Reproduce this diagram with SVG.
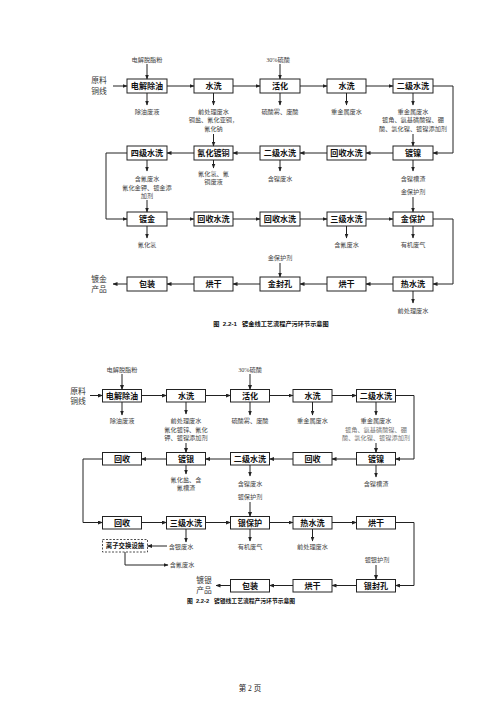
<svg xmlns="http://www.w3.org/2000/svg" width="500" height="707" viewBox="0 0 500 707">
<defs>
<marker id="ah" markerUnits="userSpaceOnUse" markerWidth="5" markerHeight="4" refX="4.5" refY="2" orient="auto"><path d="M0,0 L5,2 L0,4 Z" fill="#222"/></marker>
<style>
.bx rect{fill:#fff;stroke:#222;stroke-width:1}
.bx text{font-family:"Liberation Serif","Noto Sans CJK SC",serif;font-weight:bold;font-size:8.1px;text-anchor:middle;fill:#111}
.lb{font-family:"Liberation Serif","Noto Sans CJK SC",serif;font-size:6.2px;text-anchor:middle;fill:#444}
.lt{fill:#777}
.big{font-family:"Liberation Serif","Noto Sans CJK SC",serif;font-size:7.8px;text-anchor:middle;fill:#333}
.cap{font-family:"Liberation Sans","Noto Sans CJK SC",sans-serif;font-weight:bold;font-size:6.2px;text-anchor:middle;fill:#111}
.cn path,.cn line{fill:none;stroke:#222;stroke-width:1;marker-end:url(#ah)}
</style>
</defs>
<rect width="500" height="707" fill="#fff"/>

<!-- ===== Diagram 1 ===== -->
<g class="bx">
<g id="t_r1_1"><rect x="127" y="79" width="40" height="14"/><text x="147" y="89">电解除油</text></g>
<g id="t_r1_2"><rect x="194" y="79" width="39" height="14"/><text x="213.5" y="89">水洗</text></g>
<g id="t_r1_3"><rect x="260" y="79" width="40" height="14"/><text x="280" y="89">活化</text></g>
<g id="t_r1_4"><rect x="327" y="79" width="39" height="14"/><text x="346.5" y="89">水洗</text></g>
<g id="t_r1_5"><rect x="393" y="79" width="40" height="14"/><text x="413" y="89">二级水洗</text></g>

<g id="t_r2_1"><rect x="127" y="146" width="40" height="14"/><text x="147" y="156">四级水洗</text></g>
<g id="t_r2_2"><rect x="194" y="146" width="39" height="14"/><text x="213.5" y="156">氰化镀铜</text></g>
<g id="t_r2_3"><rect x="260" y="146" width="40" height="14"/><text x="280" y="156">二级水洗</text></g>
<g id="t_r2_4"><rect x="327" y="146" width="39" height="14"/><text x="346.5" y="156">回收水洗</text></g>
<g id="t_r2_5"><rect x="393" y="146" width="40" height="14"/><text x="413" y="156">镀镍</text></g>

<g id="t_r3_1"><rect x="127" y="212" width="40" height="14"/><text x="147" y="222">镀金</text></g>
<g id="t_r3_2"><rect x="194" y="212" width="39" height="14"/><text x="213.5" y="222">回收水洗</text></g>
<g id="t_r3_3"><rect x="260" y="212" width="40" height="14"/><text x="280" y="222">回收水洗</text></g>
<g id="t_r3_4"><rect x="327" y="212" width="39" height="14"/><text x="346.5" y="222">三级水洗</text></g>
<g id="t_r3_5"><rect x="393" y="212" width="40" height="14"/><text x="413" y="222">金保护</text></g>

<g id="t_r4_1"><rect x="127" y="277" width="40" height="14"/><text x="147" y="287">包装</text></g>
<g id="t_r4_2"><rect x="194" y="277" width="39" height="14"/><text x="213.5" y="287">烘干</text></g>
<g id="t_r4_3"><rect x="260" y="277" width="40" height="14"/><text x="280" y="287">金封孔</text></g>
<g id="t_r4_4"><rect x="327" y="277" width="39" height="14"/><text x="346.5" y="287">烘干</text></g>
<g id="t_r4_5"><rect x="393" y="277" width="40" height="14"/><text x="413" y="287">热水洗</text></g>
</g>

<g id="t_labels">
<text class="big" x="99" y="83">原料</text><text class="big" x="99" y="93.5">铜线</text>
<text class="big" x="99" y="282">镀金</text><text class="big" x="99" y="292">产品</text>
<text class="lb" x="147" y="61.5">电解脱脂粉</text>
<text class="lb" x="147" y="113.5">除油废液</text>
<text class="lb" x="213.5" y="113.5">前处理废水</text>
<text class="lb" x="213.5" y="122.3">铜盐、氰化亚铜，</text>
<text class="lb" x="213.5" y="131.2">氰化钠</text>
<text class="lb" x="278" y="61.5">30%硫酸</text>
<text class="lb" x="280" y="113.5">硫酸雾、废酸</text>
<text class="lb" x="346.5" y="113.5">重金属废水</text>
<text class="lb" x="413" y="113.5">重金属废水</text>
<text class="lb" x="413" y="122.3">镀角、氨基磺酸镍、硼</text>
<text class="lb" x="413" y="131.2">酸、氯化镍、镀镍添加剂</text>
<text class="lb" x="147" y="180.6">含氰废水</text>
<text class="lb" x="147" y="189.5">氰化金钾、镀金添</text>
<text class="lb" x="147" y="197.6">加剂</text>
<text class="lb" x="213.5" y="175.6">氰化氢、氰</text>
<text class="lb" x="213.5" y="184">铜废液</text>
<text class="lb" x="280" y="180.5">含镍废水</text>
<text class="lb" x="413" y="180.5">含镍槽渣</text>
<text class="lb" x="413" y="194">金保护剂</text>
<text class="lb" x="147" y="247.3">氰化氢</text>
<text class="lb" x="346.5" y="247.3">含氰废水</text>
<text class="lb" x="413" y="247.3">有机废气</text>
<text class="lb" x="280" y="260.3">金保护剂</text>
<text class="lb" x="413" y="313.3">前处理废水</text>
<text class="cap" x="271" y="325.5" xml:space="preserve">图  2.2-1   镀金线工艺流程产污环节示意图</text>
</g>

<g id="t_connectors" class="cn">
<line x1="113" y1="86" x2="127" y2="86"/>
<line x1="167" y1="86" x2="194" y2="86"/>
<line x1="233" y1="86" x2="260" y2="86"/>
<line x1="300" y1="86" x2="327" y2="86"/>
<line x1="366" y1="86" x2="393" y2="86"/>
<path d="M433,86 H453 V153 H433"/>
<line x1="147" y1="64" x2="147" y2="79"/>
<line x1="147" y1="93" x2="147" y2="105"/>
<line x1="213.5" y1="93" x2="213.5" y2="105"/>
<line x1="213.5" y1="134" x2="213.5" y2="146"/>
<line x1="280" y1="64" x2="280" y2="79"/>
<line x1="280" y1="93" x2="280" y2="105"/>
<line x1="346.5" y1="93" x2="346.5" y2="105"/>
<line x1="413" y1="93" x2="413" y2="105"/>
<line x1="413" y1="134" x2="413" y2="146"/>
<line x1="393" y1="153" x2="366" y2="153"/>
<line x1="327" y1="153" x2="300" y2="153"/>
<line x1="260" y1="153" x2="233" y2="153"/>
<line x1="194" y1="153" x2="167" y2="153"/>
<path d="M127,153 H106 V219 H127"/>
<line x1="147" y1="160" x2="147" y2="171"/>
<line x1="147" y1="200" x2="147" y2="212"/>
<line x1="213.5" y1="160" x2="213.5" y2="168"/>
<line x1="280" y1="160" x2="280" y2="171"/>
<line x1="413" y1="160" x2="413" y2="171"/>
<line x1="413" y1="197" x2="413" y2="212"/>
<line x1="167" y1="219" x2="194" y2="219"/>
<line x1="233" y1="219" x2="260" y2="219"/>
<line x1="300" y1="219" x2="327" y2="219"/>
<line x1="366" y1="219" x2="393" y2="219"/>
<path d="M433,219 H453 V284 H433"/>
<line x1="147" y1="226" x2="147" y2="238"/>
<line x1="346.5" y1="226" x2="346.5" y2="238"/>
<line x1="413" y1="226" x2="413" y2="238"/>
<line x1="280" y1="263" x2="280" y2="277"/>
<line x1="393" y1="284" x2="366" y2="284"/>
<line x1="327" y1="284" x2="300" y2="284"/>
<line x1="260" y1="284" x2="233" y2="284"/>
<line x1="194" y1="284" x2="167" y2="284"/>
<line x1="127" y1="284" x2="113" y2="284"/>
<line x1="413" y1="291" x2="413" y2="303"/>
</g>

<!-- ===== Diagram 2 ===== -->
<g class="bx">
<g id="b_r1_1"><rect x="102.5" y="389.5" width="39" height="12.5"/><text x="122" y="398.8">电解除油</text></g>
<g id="b_r1_2"><rect x="166.5" y="389.5" width="39" height="12.5"/><text x="186" y="398.8">水洗</text></g>
<g id="b_r1_3"><rect x="230.5" y="389.5" width="39" height="12.5"/><text x="250" y="398.8">活化</text></g>
<g id="b_r1_4"><rect x="293" y="389.5" width="39" height="12.5"/><text x="312.5" y="398.8">水洗</text></g>
<g id="b_r1_5"><rect x="356.5" y="389.5" width="39" height="12.5"/><text x="376" y="398.8">二级水洗</text></g>

<g id="b_r2_1"><rect x="102.5" y="452.5" width="39" height="12.5"/><text x="122" y="461.8">回收</text></g>
<g id="b_r2_2"><rect x="166.5" y="452.5" width="39" height="12.5"/><text x="186" y="461.8">镀银</text></g>
<g id="b_r2_3"><rect x="230.5" y="452.5" width="39" height="12.5"/><text x="250" y="461.8">二级水洗</text></g>
<g id="b_r2_4"><rect x="293" y="452.5" width="39" height="12.5"/><text x="312.5" y="461.8">回收</text></g>
<g id="b_r2_5"><rect x="356.5" y="452.5" width="39" height="12.5"/><text x="376" y="461.8">镀镍</text></g>

<g id="b_r3_1"><rect x="102.5" y="516.5" width="39" height="12.5"/><text x="122" y="525.8">回收</text></g>
<g id="b_r3_2"><rect x="166.5" y="516.5" width="39" height="12.5"/><text x="186" y="525.8">三级水洗</text></g>
<g id="b_r3_3"><rect x="230.5" y="516.5" width="39" height="12.5"/><text x="250" y="525.8">银保护</text></g>
<g id="b_r3_4"><rect x="293" y="516.5" width="39" height="12.5"/><text x="312.5" y="525.8">热水洗</text></g>
<g id="b_r3_5"><rect x="356.5" y="516.5" width="39" height="12.5"/><text x="376" y="525.8">烘干</text></g>

<g id="b_r4_3"><rect x="230.5" y="579.5" width="39" height="12.5"/><text x="250" y="588.8">包装</text></g>
<g id="b_r4_4"><rect x="293" y="579.5" width="39" height="12.5"/><text x="312.5" y="588.8">烘干</text></g>
<g id="b_r4_5"><rect x="356.5" y="579.5" width="39" height="12.5"/><text x="376" y="588.8">银封孔</text></g>
</g>
<g id="b_ion"><rect x="102.5" y="539.5" width="45" height="12.5" fill="#fff" stroke="#222" stroke-width="0.8" stroke-dasharray="2,1.5"/><text x="125" y="548" style="font-family:'Liberation Serif','Noto Sans CJK SC',serif;font-weight:bold;font-size:6.4px;text-anchor:middle;fill:#111">离子交换设施</text></g>

<g id="b_labels">
<text class="big" x="78" y="394">原料</text><text class="big" x="78" y="404">铜线</text>
<text class="big" x="204" y="583">镀银</text><text class="big" x="204" y="593">产品</text>
<text class="lb" x="122" y="371.5">电解脱脂粉</text>
<text class="lb" x="122" y="423.3">除油废液</text>
<text class="lb" x="186" y="422.5">前处理废水</text>
<text class="lb" x="186" y="431.6">氰化镀锌、氰化</text>
<text class="lb" x="186" y="440.3">钾、镀镍添加剂</text>
<text class="lb" x="250" y="371.5">30%硫酸</text>
<text class="lb" x="250" y="423.3">硫酸雾、废酸</text>
<text class="lb" x="312.5" y="423.3">重金属废水</text>
<text class="lb" x="376" y="423.3">重金属废水</text>
<text class="lb lt" x="376" y="431.6">镀角、氨基磺酸镍、硼</text>
<text class="lb lt" x="376" y="440.3">酸、氯化镍、镀镍添加剂</text>
<text class="lb" x="186" y="481.6">氰化盐、含</text>
<text class="lb" x="186" y="490">氰槽渣</text>
<text class="lb" x="250" y="485.6">含镍废水</text>
<text class="lb" x="250" y="499">镀保护剂</text>
<text class="lb" x="376" y="485.6">含镍槽渣</text>
<text class="lb" x="181" y="549">含银废水</text>
<text class="lb" x="250" y="549">有机废气</text>
<text class="lb" x="312.5" y="549">前处理废水</text>
<text class="lb" x="182" y="567.3">含氰废水</text>
<text class="lb" x="377" y="562.3">镀银护剂</text>
<text class="cap" x="241" y="603" style="font-size:5.8px" xml:space="preserve">图  2.2-2   镀银线工艺流程产污环节示意图</text>
<text class="big" x="250" y="691" style="font-size:7.5px;fill:#222" xml:space="preserve">第 2 页</text>
</g>

<g id="b_connectors" class="cn">
<line x1="90" y1="395.5" x2="102.5" y2="395.5"/>
<line x1="141.5" y1="395.5" x2="166.5" y2="395.5"/>
<line x1="205.5" y1="395.5" x2="230.5" y2="395.5"/>
<line x1="269.5" y1="395.5" x2="293" y2="395.5"/>
<line x1="332" y1="395.5" x2="356.5" y2="395.5"/>
<path d="M395.5,395.5 H414 V459 H395.5"/>
<line x1="122" y1="374" x2="122" y2="389.5"/>
<line x1="122" y1="402" x2="122" y2="415"/>
<line x1="186" y1="402" x2="186" y2="414"/>
<line x1="186" y1="443" x2="186" y2="452.5"/>
<line x1="250" y1="374" x2="250" y2="389.5"/>
<line x1="250" y1="402" x2="250" y2="415"/>
<line x1="312.5" y1="402" x2="312.5" y2="415"/>
<line x1="376" y1="402" x2="376" y2="415"/>
<line x1="376" y1="443" x2="376" y2="452.5"/>
<line x1="356.5" y1="459" x2="332" y2="459"/>
<line x1="293" y1="459" x2="269.5" y2="459"/>
<line x1="230.5" y1="459" x2="205.5" y2="459"/>
<line x1="166.5" y1="459" x2="141.5" y2="459"/>
<path d="M102.5,459 H83 V522.5 H102.5"/>
<line x1="186" y1="465" x2="186" y2="474"/>
<line x1="250" y1="465" x2="250" y2="476"/>
<line x1="250" y1="502" x2="250" y2="516.5"/>
<line x1="376" y1="465" x2="376" y2="477"/>
<line x1="141.5" y1="522.5" x2="166.5" y2="522.5"/>
<line x1="205.5" y1="522.5" x2="230.5" y2="522.5"/>
<line x1="269.5" y1="522.5" x2="293" y2="522.5"/>
<line x1="332" y1="522.5" x2="356.5" y2="522.5"/>
<path d="M395.5,522.5 H414 V585.5 H395.5"/>
<line x1="186" y1="529" x2="186" y2="542"/>
<line x1="167" y1="546" x2="147.5" y2="546"/>
<path d="M125,552 V565 H168"/>
<line x1="250" y1="529" x2="250" y2="541"/>
<line x1="312.5" y1="529" x2="312.5" y2="541"/>
<line x1="376" y1="565" x2="376" y2="579.5"/>
<line x1="356.5" y1="585.5" x2="332" y2="585.5"/>
<line x1="293" y1="585.5" x2="269.5" y2="585.5"/>
<line x1="230.5" y1="585.5" x2="216" y2="585.5"/>
</g>
</svg>
